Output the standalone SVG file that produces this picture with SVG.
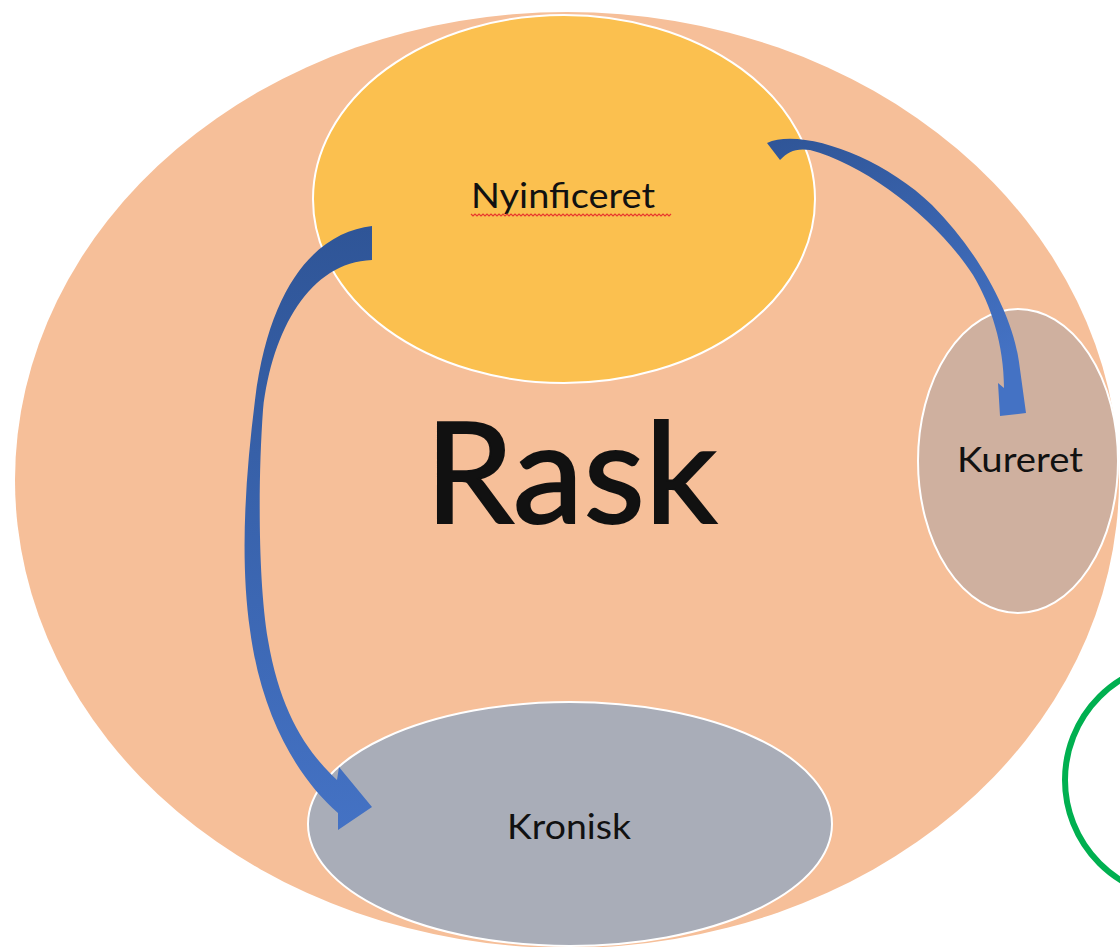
<svg xmlns="http://www.w3.org/2000/svg" width="1120" height="947" viewBox="0 0 1120 947">
<defs>
<style>
.lbl{font-family:Lato,"Open Sans","Liberation Sans",sans-serif;fill:#111;text-anchor:start}
.node{stroke:#ffffff;stroke-width:2}
</style>
<linearGradient id="gL" x1="0" y1="0" x2="0" y2="1">
<stop offset="0" stop-color="#2F5597"/>
<stop offset="1" stop-color="#4472C4"/>
</linearGradient>
<linearGradient id="gR" x1="0" y1="0" x2="0.4" y2="1">
<stop offset="0" stop-color="#2F5597"/>
<stop offset="1" stop-color="#4472C4"/>
</linearGradient>
</defs>
<rect width="1120" height="947" fill="#ffffff"/>
<g id="rask">
<ellipse cx="567" cy="480" rx="552" ry="468" fill="#F6BF99"/>
<text class="lbl" x="425" y="523" font-size="140" textLength="292" lengthAdjust="spacingAndGlyphs" stroke="#111" stroke-width="2">Rask</text>
</g>
<g id="nyinficeret">
<ellipse class="node" cx="564" cy="199" rx="251" ry="184" fill="#FBC04F"/>
<text class="lbl" x="471" y="208" font-size="35" textLength="184" lengthAdjust="spacingAndGlyphs">Nyinficeret</text>
<path d="M471,214 l2,2 l2,-2 l2,2 l2,-2 l2,2 l2,-2 l2,2 l2,-2 l2,2 l2,-2 l2,2 l2,-2 l2,2 l2,-2 l2,2 l2,-2 l2,2 l2,-2 l2,2 l2,-2 l2,2 l2,-2 l2,2 l2,-2 l2,2 l2,-2 l2,2 l2,-2 l2,2 l2,-2 l2,2 l2,-2 l2,2 l2,-2 l2,2 l2,-2 l2,2 l2,-2 l2,2 l2,-2 l2,2 l2,-2 l2,2 l2,-2 l2,2 l2,-2 l2,2 l2,-2 l2,2 l2,-2 l2,2 l2,-2 l2,2 l2,-2 l2,2 l2,-2 l2,2 l2,-2 l2,2 l2,-2 l2,2 l2,-2 l2,2 l2,-2 l2,2 l2,-2 l2,2 l2,-2 l2,2 l2,-2 l2,2 l2,-2 l2,2 l2,-2 l2,2 l2,-2 l2,2 l2,-2 l2,2 l2,-2 l2,2 l2,-2 l2,2 l2,-2 l2,2 l2,-2 l2,2 l2,-2 l2,2 l2,-2 l2,2 l2,-2 l2,2 l2,-2 l2,2 l2,-2 l2,2 l2,-2 l2,2 l2,-2" fill="none" stroke="#E8382E" stroke-width="1.2"/>
</g>
<g id="kureret">
<ellipse class="node" cx="1018" cy="461" rx="100" ry="152" fill="#CFB09F" stroke-width="1.5"/>
<text class="lbl" x="957" y="472" font-size="35" textLength="126" lengthAdjust="spacingAndGlyphs">Kureret</text>
</g>
<g id="kronisk">
<ellipse class="node" cx="570" cy="824" rx="262" ry="122" fill="#A9ADB8" stroke-width="1.5"/>
<text class="lbl" x="507" y="839" font-size="35" textLength="124" lengthAdjust="spacingAndGlyphs">Kronisk</text>
</g>
<g id="green-circle">
<circle cx="1183" cy="780" r="118" fill="none" stroke="#00B050" stroke-width="6"/>
</g>
<g id="connectors">
<path d="M372,226 C320,232 270,280 255,400 C245,480 240,560 250,630 C262,720 300,780 338,813 L338,830 L372,807 L339,767 L337,780 C305,750 280,710 268,640 C258,580 258,480 263,410 C272,330 310,262 372,260 Z" fill="url(#gL)"/>
<path d="M767,143 C800,128 880,155 932,205 C977,250 1012,312 1019,362 L1026,413 L1000,416 L998,383 L1004,388 C1004,345 991,305 973,275 C936,218 866,165 810,150 C795,148 788,152 780,160 Z" fill="url(#gR)"/>
</g>
</svg>
